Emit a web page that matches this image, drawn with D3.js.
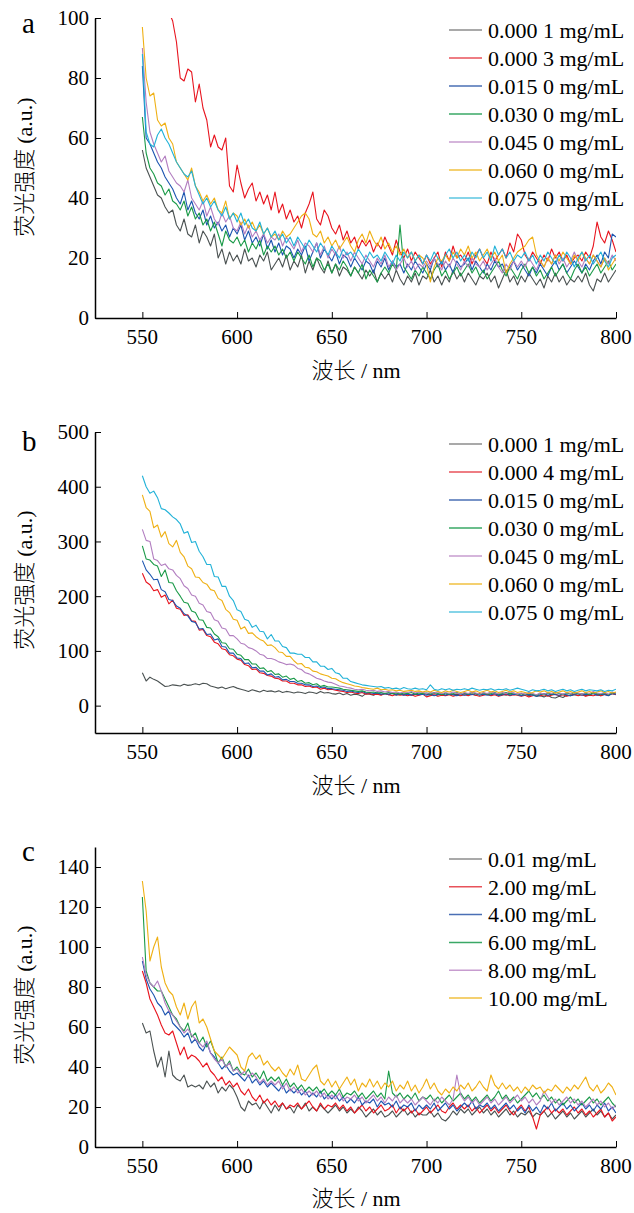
<!DOCTYPE html>
<html>
<head>
<meta charset="utf-8">
<script src="https://cdn.jsdelivr.net/npm/d3@7"></script>
<style>
  body { margin: 0; background: #fff; }
</style>
</head>
<body>
<div id="svg-area"></div>
<script>
// wavelength grid, 2 nm steps from 550 to 800
var wavelengths = d3.range(550, 802, 2);
var xTicks = [550, 600, 650, 700, 750, 800];

// panel a
var labelsA = ["0.000 1 mg/mL", "0.000 3 mg/mL", "0.015 0 mg/mL", "0.030 0 mg/mL", "0.045 0 mg/mL", "0.060 0 mg/mL", "0.075 0 mg/mL"];
var aGray = [56,50,47,44,41, 40,37,35,36,31, 29,33,28,27,31, 25,29,27,24,28, 20,23,18,22,19, 21,18,23,19,20,
  17,21,19,22,16, 18,20,17,21,16, 19,17,21,15,19, 16,20,17,15,19, 15,18,14,17,16, 14,17,15,13,16,
  14,16,12,15,13, 15,12,16,13,11, 14,12,15,11,14, 13,16,12,14,11, 14,12,16,13,15, 12,15,13,11,14,
  13,15,12,14,10, 13,16,12,14,11, 14,12,15,13,11, 13,10,14,12,15, 12,14,11,13,12, 14,12,15,11,9,
  13,12,15,12,14, 16];
var aRed = [150,140,132,125,118, 112,106,102,99,92, 80,79,83,82,72, 78,70,66,57,61, 57,56,60,44,42, 51,45,40,43,45,
  39,42,38,41,36, 42,35,38,33,36, 32,34,30,35,38, 42,33,31,36,34, 30,28,31,26,29, 25,27,23,26,24,
  26,22,25,23,27, 24,21,26,22,20, 23,19,22,20,18, 21,18,20,22,17, 22,19,24,20,21, 19,22,18,21,23,
  20,18,22,19,21, 23,20,25,22,28, 26,21,19,22,20, 18,21,19,23,20, 22,19,21,18,20, 21,19,22,20,24,
  32,27,25,29,26, 22];
var aBlue = [84,60,58,55,52, 50,47,45,43,40, 38,42,36,39,35, 33,36,31,34,30, 32,29,31,27,30, 28,31,26,29,25,
  27,24,28,23,26, 22,25,21,24,23, 20,23,21,24,19, 22,25,20,23,21, 19,22,18,21,20, 17,20,18,16,19,
  18,15,19,17,20, 16,19,17,18,15, 18,16,19,17,15, 18,16,20,17,19, 16,18,15,19,17, 18,20,16,19,17,
  15,18,16,19,17, 18,15,17,19,16, 18,16,14,17,15, 18,16,14,17,19, 16,18,15,17,19, 17,15,18,16,19,
  21,18,22,20,28, 27];
var aGreen = [67,55,50,48,45, 44,41,43,39,38, 36,39,34,37,33, 35,31,33,29,32, 28,24,29,26,25, 27,24,26,22,25,
  23,26,21,24,22, 24,21,23,20,22, 19,22,20,18,21, 17,20,19,16,18, 15,18,16,19,17, 14,17,15,18,13,
  16,14,12,15,17, 15,18,16,31,17, 15,13,16,14,17, 15,13,16,18,14, 16,13,15,17,14, 16,18,15,17,14,
  16,13,15,17,19, 16,14,17,15,13, 16,18,15,17,14, 16,13,15,17,14, 16,18,15,13,16, 18,15,17,14,16,
  18,15,17,19,16, 18];
var aPurple = [90,72,62,58,55, 52,54,49,47,45, 44,42,46,40,38, 36,39,34,37,33, 31,35,32,34,30, 29,32,28,31,27,
  29,26,28,25,27, 26,28,24,27,25, 23,26,22,25,24, 22,25,21,24,20, 23,21,24,20,22, 19,22,20,18,21,
  19,17,20,18,21, 17,19,16,18,20, 17,19,16,18,17, 19,17,20,18,16, 19,17,20,18,16, 19,17,20,18,17,
  19,16,18,20,17, 15,18,16,19,17, 19,17,20,18,16, 19,17,20,18,21, 18,20,17,19,22, 19,17,20,18,21,
  19,17,20,18,21, 19];
var aOrange = [97,80,74,75,66, 64,65,60,58,52, 50,48,46,50,44, 42,39,41,38,40, 36,35,39,33,35, 34,31,33,30,32,
  29,31,28,30,27, 28,26,29,27,28, 30,32,34,35,33, 28,27,29,25,27, 24,26,23,25,27, 24,22,26,28,25,
  29,26,24,27,23, 25,22,24,21,23, 20,22,19,21,20, 18,12,17,20,19, 21,19,22,20,23, 21,24,20,22,19,
  21,23,20,22,19, 21,15,18,20,22, 23,24,26,27,21, 19,17,20,18,21, 19,22,20,18,21, 19,22,20,18,21,
  19,17,20,16,18, 20];
var aCyan = [88,62,58,57,61, 63,60,58,55,52, 50,48,47,49,44, 41,38,40,37,39, 36,34,37,33,35, 32,35,31,33,30,
  29,32,28,30,27, 29,26,28,25,27, 24,27,25,23,26, 24,22,25,23,21, 24,22,20,23,21, 22,20,23,21,19,
  22,20,21,19,22, 20,18,21,19,22, 20,22,19,21,18, 21,19,22,20,18, 21,23,20,22,19, 21,19,22,20,23,
  20,22,19,24,21, 23,20,22,19,21, 20,22,19,21,18, 21,19,22,20,18, 21,19,22,20,17, 20,22,19,21,18,
  20,22,19,17,20, 21];

// panel b
var labelsB = ["0.000 1 mg/mL", "0.000 4 mg/mL", "0.015 0 mg/mL", "0.030 0 mg/mL", "0.045 0 mg/mL", "0.060 0 mg/mL", "0.075 0 mg/mL"];
var bGray = [60,45,52,48,45, 40,35,36,38,37, 36,39,37,38,40, 38,41,40,36,34, 32,34,31,33,35, 32,30,28,26,29,
  27,25,28,26,27, 25,27,24,26,25, 23,25,24,22,25, 24,22,26,23,24, 22,21,23,20,22, 19,21,20,17,22,
  21,19,23,20,22, 20,22,19,21,20, 22,19,21,20,23, 21,19,22,20,21, 19,22,20,21,19, 22,20,21,19,22,
  20,21,19,22,20, 21,19,22,20,21, 19,21,18,20,17, 18,16,19,15,14, 17,15,19,18,20, 19,21,18,20,22,
  20,18,21,19,22, 21];
var bRed = [242,226,221,210,212, 198,202,186,193,178, 176,165,166,155,154, 138,139,128,126,116, 113,104,102,93,91,
  85,83,75,73,66, 67,60,59,55,54, 50,49,45,45,41, 41,38,38,35,36, 33,34,30,32,29, 30,28,27,26,24,
  25,23,22,24,21, 22,20,21,19,22, 20,18,21,19,20, 18,20,17,19,21, 16,18,20,17,19, 18,20,17,19,18,
  20,18,21,19,17, 19,21,18,20,17, 19,21,18,20,19, 17,19,16,18,20, 18,20,17,19,21, 18,20,17,19,21,
  18,20,17,19,18, 20,18,21,19,22, 20];
var bBlue = [265,248,240,230,231, 212,208,194,192,182, 178,168,164,154,152, 140,141,130,131,120, 122,108,107,96,96,
  87,86,77,78,69, 70,63,63,56,58, 52,53,47,48,44, 44,41,41,38,38, 35,36,33,34,31, 31,30,29,28,26,
  27,25,24,26,23, 24,22,23,21,22, 21,23,20,22,19, 21,19,22,20,21, 19,21,18,20,22, 19,21,20,18,21,
  19,21,20,22,19, 21,19,20,22,18, 20,22,19,21,20, 18,20,21,19,17, 20,22,19,21,20, 19,21,20,18,21,
  22,19,21,20,22, 19,21,20,18,22, 21];
var bGreen = [292,268,266,258,255, 236,248,225,224,210, 200,189,187,173,170, 157,156,143,142,131, 126,115,114,104,103,
  94,92,84,84,76, 76,68,69,62,64, 57,58,52,54,48, 50,44,46,41,42, 38,40,35,37,34, 34,33,32,30,29,
  28,27,26,27,25, 24,25,23,24,22, 24,22,23,21,23, 22,24,21,23,22, 23,21,24,22,20, 23,21,22,24,21,
  23,21,24,22,20, 23,21,22,24,21, 22,24,21,23,20, 22,20,23,21,19, 22,20,23,21,24, 22,20,23,21,24,
  22,21,23,20,24, 22,21,23,20,24, 23];
var bPurple = [322,302,300,268,265, 256,259,250,248,238, 232,219,214,202,200, 187,184,172,170,157, 154,142,140,128,128,
  122,114,112,106,104, 100,94,92,86,86, 84,80,78,75,76, 74,68,66,60,58, 54,50,48,45,43, 42,39,36,35,33,
  32,30,29,30,28, 27,28,26,27,25, 26,24,25,23,25, 24,26,23,25,24, 22,24,23,25,22, 24,22,25,23,21,
  24,22,25,23,21, 24,22,25,23,22, 24,22,25,23,21, 23,21,24,22,20, 23,21,24,22,25, 23,21,24,22,25,
  23,21,24,22,26, 23,22,24,21,25, 23];
var bOrange = [385,362,355,325,330, 308,318,296,290,302, 280,272,255,250,235, 234,225,222,212,210, 196,192,176,170,158,
  156,140,144,132,133, 126,121,118,110,111, 106,98,97,90,90, 82,76,77,70,69, 63,62,58,56,54, 50,49,45,42,40,
  38,36,35,33,32, 31,30,32,29,30, 28,29,27,28,26, 27,28,26,27,25, 27,25,28,26,24, 27,25,28,26,24,
  26,28,25,27,24, 26,28,25,27,24, 26,28,25,27,24, 26,24,22,24,27, 25,27,24,26,23, 25,27,24,26,23,
  25,27,24,26,23, 25,27,24,26,23, 25];
var bCyan = [420,400,388,392,380, 360,358,352,345,340, 332,315,318,298,300, 282,272,258,258,236, 235,218,218,200,192,
  175,172,158,155,143, 147,136,135,122,130, 118,118,108,106,96, 96,94,94,88,88, 80,80,72,72,66, 68,60,58,50,50,
  44,42,40,38,37, 36,35,34,35,32, 33,31,32,30,33, 31,30,32,30,31, 29,38,30,28,31, 29,31,28,30,29,
  31,29,32,30,28, 30,29,31,28,30, 29,31,28,30,32, 30,28,26,29,27, 28,30,27,29,26, 28,30,27,29,26,
  28,30,27,29,28, 27,29,26,28,27, 30];

// panel c
var labelsC = ["0.01 mg/mL", "2.00 mg/mL", "4.00 mg/mL", "6.00 mg/mL", "8.00 mg/mL", "10.00 mg/mL"];
var cGray = [62,57,58,48,40, 45,35,48,36,34, 33,36,30,31,30, 31,29,33,30,32, 27,30,28,31,29, 25,20,18,23,21,
  22,19,23,20,17, 21,18,22,19,20, 17,21,19,22,18, 20,18,21,19,17, 19,21,18,20,17, 19,17,20,18,15,
  17,19,16,18,15, 16,18,15,17,19, 16,18,15,17,16, 16,18,15,17,14, 13,15,18,16,19, 17,19,16,18,20,
  17,19,16,18,15, 17,19,16,18,15, 17,16,18,15,17, 16,18,15,17,14, 16,18,15,17,14, 16,18,15,17,19,
  16,18,15,17,14, 16];
var cRed = [88,82,74,70,66, 61,57,56,58,52, 46,50,44,46,45, 43,40,42,38,36, 33,35,31,33,30, 32,28,26,29,25,
  23,26,22,24,21, 23,20,22,19,21, 20,22,19,21,23, 20,18,22,19,21, 20,22,19,21,18, 20,17,19,21,18,
  20,17,19,21,18, 19,21,17,20,18, 20,17,19,16,18, 20,17,19,21,18, 17,20,22,19,21, 19,21,18,20,17,
  19,21,18,20,17, 19,21,18,16,19, 21,18,20,15,9, 16,18,20,17,19, 17,19,16,18,20, 17,19,16,18,15,
  17,19,15,17,13, 15];
var cBlue = [93,84,79,76,72, 70,66,68,62,60, 58,55,57,52,54, 50,48,52,47,45, 42,39,41,38,36, 37,35,33,36,32,
  34,31,33,30,32, 30,28,31,27,29, 27,29,26,28,25, 27,25,28,24,26, 24,26,23,25,22, 24,22,25,21,23,
  22,24,20,23,21, 22,20,23,19,21, 20,22,18,21,19, 21,19,22,18,20, 22,19,21,18,20, 22,20,23,19,21,
  20,22,19,21,18, 20,22,19,21,18, 20,17,21,18,20, 17,21,19,22,18, 20,22,19,21,18, 20,22,19,21,18,
  21,19,22,18,20, 17];
var cGreen = [125,88,82,80,78, 78,74,70,66,64, 60,58,62,55,57, 52,55,50,53,48, 42,45,40,43,38, 40,37,36,39,35,
  37,34,38,33,35, 33,35,31,34,30, 32,29,31,28,30, 28,30,27,29,26, 28,26,29,25,27, 26,28,25,27,24,
  26,28,25,27,24, 38,27,25,27,24, 26,24,27,23,25, 24,26,23,25,22, 24,26,23,25,27, 24,26,23,25,22,
  24,26,23,25,28, 24,26,23,25,22, 24,26,28,25,27, 24,26,23,25,22, 24,21,23,25,22, 24,21,23,25,22,
  24,21,23,25,22, 20];
var cPurple = [95,86,82,80,83, 78,72,68,66,63, 60,57,59,56,54, 52,50,53,47,44, 42,44,40,42,38, 39,36,38,35,37,
  35,32,34,31,33, 31,33,29,32,28, 30,27,29,26,28, 26,28,25,27,24, 26,24,27,23,25, 24,26,23,25,22,
  24,26,23,25,22, 25,23,26,22,24, 22,24,21,23,25, 23,21,24,22,25, 23,21,24,36,26, 23,25,22,24,21,
  23,25,22,24,21, 23,25,22,24,26, 23,25,22,24,21, 23,28,25,22,24, 21,23,25,22,24, 21,23,20,22,24,
  21,23,20,22,19, 21];
var cOrange = [133,118,93,100,105, 90,82,78,76,70, 66,72,64,70,73, 62,64,60,54,48, 46,44,47,50,48, 46,40,38,45,47,
  44,46,41,43,40, 38,40,37,35,39, 36,41,34,33,36, 39,41,33,31,34, 30,33,29,32,35, 31,34,28,32,30,
  34,30,33,29,32, 30,33,28,31,29, 33,28,31,27,30, 34,29,32,28,26, 29,27,30,28,31, 29,32,28,30,33,
  30,28,36,31,29, 32,29,31,28,30, 27,30,28,31,29, 30,27,29,28,31, 29,27,30,28,31, 29,32,35,30,28,
  31,27,29,32,30, 26];

var lineColors = ["#4b5252", "#e8141e", "#1c55b0", "#1a9a48", "#b27ec0", "#efb014", "#22b2d8"];
var legendColors = ["#8c8c8c", "#e8525a", "#4a6fb5", "#3aa866", "#c79ccf", "#f0c040", "#5cc6e0"];

var serif = '"Liberation Serif", "Times New Roman", "DejaVu Serif", serif'
var cjk = '"Noto Sans CJK SC", sans-serif'

var svgWidth = 634
var svgHeight = 1213

var svg = d3.select('#svg-area')
    .append('svg')
    .attr('width', svgWidth)
    .attr('height', svgHeight)
    .attr('font-family', serif)

var panels = [
  { letter: 'a', series: [aGray, aRed, aBlue, aGreen, aPurple, aOrange, aCyan], labels: labelsA,
    yDomain: [0, 100], yTicks: [0, 20, 40, 60, 80, 100], top: 18, bottom: 318, legendTop: 30, legendStep: 28,
    letterY: 33, titleY: 167, xTitleY: 378 },
  { letter: 'b', series: [bGray, bRed, bBlue, bGreen, bPurple, bOrange, bCyan], labels: labelsB,
    yDomain: [-50, 500], yTicks: [0, 100, 200, 300, 400, 500], top: 432, bottom: 733, legendTop: 444, legendStep: 28,
    letterY: 451, titleY: 580, xTitleY: 793 },
  { letter: 'c', series: [cGray, cRed, cBlue, cGreen, cPurple, cOrange], labels: labelsC,
    yDomain: [0, 150], yTicks: [0, 20, 40, 60, 80, 100, 120, 140], top: 847, bottom: 1147, legendTop: 859, legendStep: 27.8,
    letterY: 861, titleY: 995, xTitleY: 1206 }
];

var left = 95, right = 616;

panels.forEach(function(p, pi) {
  var g = svg.append('g')

  var x = d3.scaleLinear().domain([525, 800]).range([left, right])
  var y = d3.scaleLinear().domain(p.yDomain).range([p.bottom, p.top])

  // clip so the off-scale start of a trace stays inside the frame
  var clipId = 'clip' + pi
  svg.append('clipPath').attr('id', clipId)
    .append('rect')
    .attr('x', left).attr('y', p.top)
    .attr('width', right - left).attr('height', p.bottom - p.top)

  var line = d3.line()
    .x(function(d, i) { return x(wavelengths[i]) })
    .y(function(d) { return y(d) })

  g.append('g')
    .attr('clip-path', 'url(#' + clipId + ')')
    .selectAll('path')
    .data(p.series)
    .enter()
    .append('path')
    .attr('d', line)
    .attr('fill', 'none')
    .attr('stroke', function(d, i) { return lineColors[i] })
    .attr('stroke-width', 1.1)
    .attr('stroke-linejoin', 'round')

  // axes, ticks pointing inward
  var xAxis = g.append('g')
    .attr('transform', 'translate(0,' + p.bottom + ')')
    .call(d3.axisTop(x).tickValues(xTicks).tickSize(6).tickSizeOuter(0).tickFormat(''))
  xAxis.select('.domain').attr('stroke-width', 1.5)
  g.selectAll('.xlab')
    .data(xTicks)
    .enter()
    .append('text')
    .attr('x', function(d) { return x(d) })
    .attr('y', p.bottom + 26)
    .attr('text-anchor', 'middle')
    .attr('font-family', serif)
    .attr('font-size', 21)
    .text(function(d) { return d })

  var yAxis = g.append('g')
    .attr('transform', 'translate(' + left + ',0)')
    .call(d3.axisRight(y).tickValues(p.yTicks).tickSize(6).tickSizeOuter(0).tickFormat(''))
  yAxis.select('.domain').attr('stroke-width', 1.5)
  g.selectAll('.ylab')
    .data(p.yTicks)
    .enter()
    .append('text')
    .attr('x', left - 6)
    .attr('y', function(d) { return y(d) })
    .attr('dy', '0.35em')
    .attr('text-anchor', 'end')
    .attr('font-family', serif)
    .attr('font-size', 21)
    .text(function(d) { return d })

  // titles
  var yt = g.append('text')
    .attr('transform', 'translate(32,' + p.titleY + ') rotate(-90)')
    .attr('text-anchor', 'middle')
    .attr('font-size', 22)
  yt.append('tspan').attr('font-family', cjk).attr('font-weight', 300).text('荧光强度 ')
  yt.append('tspan').attr('font-family', serif).text('(a.u.)')

  var xt = g.append('text')
    .attr('x', 356)
    .attr('y', p.xTitleY)
    .attr('text-anchor', 'middle')
    .attr('font-size', 22)
  xt.append('tspan').attr('font-family', cjk).attr('font-weight', 300).text('波长')
  xt.append('tspan').attr('font-family', serif).text(' / nm')

  g.append('text')
    .attr('x', 22)
    .attr('y', p.letterY)
    .attr('font-family', serif)
    .attr('font-size', 29)
    .text(p.letter)

  // legend
  var leg = g.selectAll('.leg')
    .data(p.labels)
    .enter()
    .append('g')
    .attr('transform', function(d, i) { return 'translate(449,' + (p.legendTop + i * p.legendStep) + ')' })
  leg.append('line')
    .attr('x1', 0).attr('x2', 33)
    .attr('stroke', function(d, i) { return legendColors[i] })
    .attr('stroke-width', 1.5)
  leg.append('text')
    .attr('x', 39)
    .attr('dy', '0.35em')
    .attr('font-family', serif)
    .attr('font-size', 22)
    .text(function(d) { return d })
})
</script>
</body>
</html>
